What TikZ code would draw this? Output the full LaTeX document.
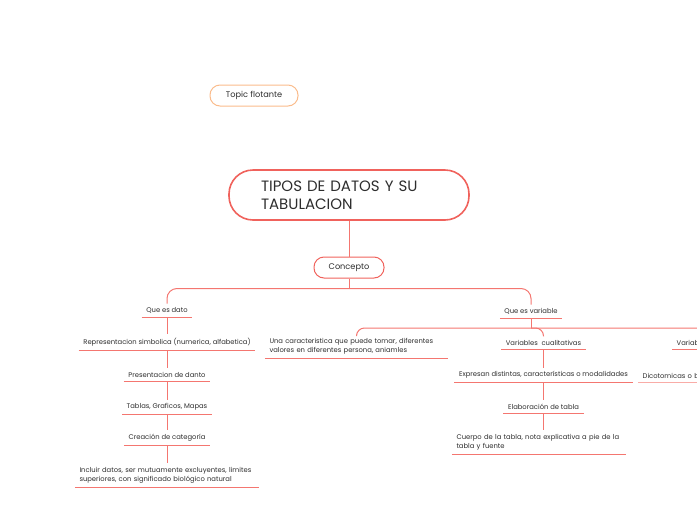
\documentclass[tikz,border=0pt]{standalone}
\usepackage{fontspec}
\setmainfont{Poppins}

\definecolor{mainred}{RGB}{240,98,92}
\definecolor{linkred}{RGB}{244,118,112}
\definecolor{paleline}{RGB}{249,172,167}
\definecolor{floatorange}{RGB}{250,188,140}
\definecolor{ink}{RGB}{45,45,45}

\tikzset{
  central/.style={draw=mainred, line width=1.6pt, rounded corners=24pt, minimum width=240pt, minimum height=50pt,
    text width=176pt, align=left, inner xsep=32pt, font=\fontsize{15}{18}\selectfont, text=ink},
  mainbox/.style={draw=mainred, line width=1pt, rounded corners=10pt, minimum width=70pt, minimum height=21pt,
    font=\fontsize{8.2}{10}\selectfont, text=ink},
  floatbox/.style={draw=floatorange, line width=1pt, rounded corners=10pt, minimum width=88pt, minimum height=21pt,
    font=\fontsize{8.2}{10}\selectfont, text=ink},
  leaf/.style={font=\fontsize{6.8}{9.2}\selectfont, text=ink, inner xsep=4.5pt, inner ysep=3.5pt, anchor=south},
  link/.style={draw=linkred, line width=1pt},
  uline/.style={draw=linkred, line width=1pt},
}

\begin{document}
\begin{tikzpicture}[x=1pt,y=-1pt]
  \useasboundingbox (0,0) rectangle (697,520);
  \clip (0,0) rectangle (697,520);

  % main topics
  \node[floatbox] (flot) at (254,95.5) {Topic flotante};
  \node[central] (root) at (349,195) {TIPOS DE DATOS Y SU\\TABULACION};
  \node[mainbox] (concepto) at (349,267.5) {Concepto};

  % left branch
  \node[leaf] (dato) at (167,317) {Que es dato};
  \node[leaf] (repr) at (167,350) {Representacion simbolica (numerica, alfabetica)};
  \node[leaf] (present) at (167,381) {Presentacion de danto};
  \node[leaf] (tablas) at (167,414) {Tablas, Graficos, Mapas};
  \node[leaf] (categ) at (167,445) {Creación de categoría};
  \node[leaf, text width=175pt, align=left] (incluir) at (167,487)
    {Incluir datos, ser mutuamente excluyentes, limites\\superiores, con significado biológico natural};

  % right branch
  \node[leaf] (variable) at (531,318) {Que es variable};
  \node[leaf, text width=174pt, align=left] (caract) at (356.5,358)
    {Una caracteristica que puede tomar, diferentes\\valores en diferentes persona, aniamles};
  \node[leaf] (cualit) at (543.5,349) {Variables\ \ cualitativas};
  \node[leaf] (expresan) at (543.5,382) {Expresan distintas, características o modalidades};
  \node[leaf] (elabor) at (543.5,413) {Elaboración de tabla};
  \node[leaf, text width=165pt, align=left] (cuerpo) at (539,454)
    {Cuerpo de la tabla, nota explicativa a pie de la\\tabla y fuente};
  \node[leaf, text width=80pt, align=left, anchor=south west] (cuantit) at (672,349) {Variab};
  \node[leaf, text width=150pt, align=left, anchor=south west] (dicot) at (638,382) {Dicotomicas o b};

  % underlines
  \foreach \n in {dato,repr,present,tablas,categ,incluir,variable,caract,cualit,expresan,elabor,cuerpo,cuantit}
    \draw[uline] (\n.south west) -- (\n.south east);
  \draw[uline, draw=paleline] (dicot.south west) -- (dicot.south east);

  % connectors
  \draw[link] (root.south) -- (concepto.north);
  \draw[link] (concepto.south) -- ++(0,10) coordinate (cfork);
  \draw[link, rounded corners=10pt] (cfork) -| (dato.north);
  \draw[link, rounded corners=10pt] (cfork) -| (variable.north);
  \foreach \a/\b in {dato/repr, repr/present, present/tablas, tablas/categ, categ/incluir}
    \draw[link] (\a.south) -- (\b.north);

  \draw[link] (variable.south) -- ++(0,10) coordinate (vfork);
  \draw[link, rounded corners=8pt] (vfork) -| (caract.north);
  \draw[link, rounded corners=8pt] (vfork) -| (cualit.north);
  \draw[link, rounded corners=8pt] (vfork) -| (cuantit.north);
  \draw[link] (cualit.south) -- (expresan.north);
  \draw[link] (expresan.south) -- (elabor.north);
  \draw[link] (elabor.south) -- (elabor.south |- cuerpo.north);
  \draw[link] (cuantit.south) -- (dicot.north);
\end{tikzpicture}
\end{document}
